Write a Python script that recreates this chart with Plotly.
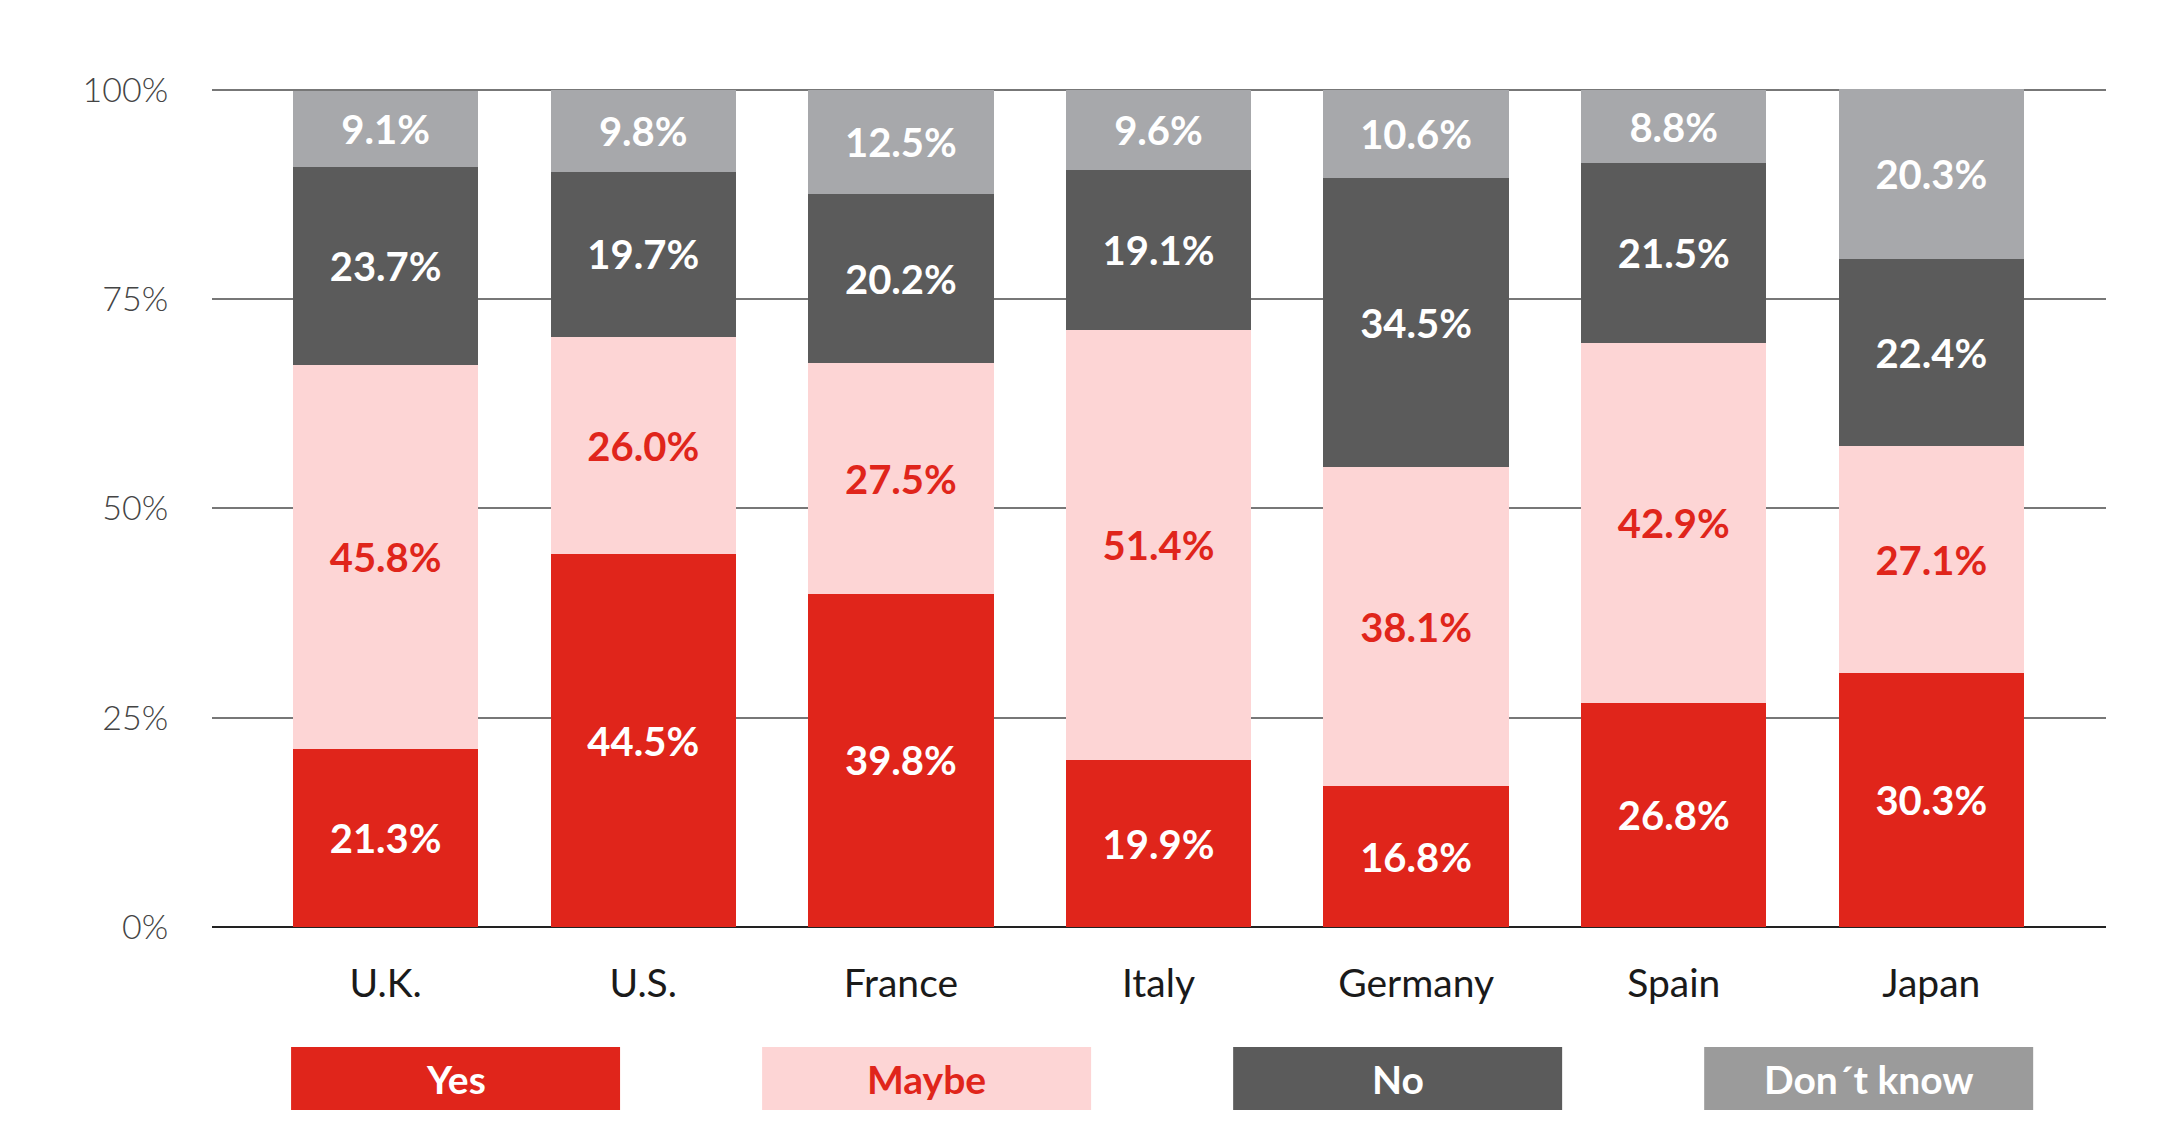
import plotly.graph_objects as go

countries = ["U.K.", "U.S.", "France", "Italy", "Germany", "Spain", "Japan"]

yes = [21.3, 44.5, 39.8, 19.9, 16.8, 26.8, 30.3]
maybe = [45.8, 26.0, 27.5, 51.4, 38.1, 42.9, 27.1]
no = [23.7, 19.7, 20.2, 19.1, 34.5, 21.5, 22.4]
dont_know = [9.1, 9.8, 12.5, 9.6, 10.6, 8.8, 20.3]

series_names = ["Yes", "Maybe", "No", "Don´t know"]
bar_colors = ["#e0251b", "#fdd5d5", "#5b5b5b", "#a7a8ab"]
text_colors = ["white", "#e0251b", "white", "white"]
legend_colors = ["#e0251b", "#fdd5d5", "#5b5b5b", "#9b9b9b"]

tick_vals = [0, 25, 50, 75, 100]
tick_text = ["0%", "25%", "50%", "75%", "100%"]

font_name = "Lato"

fig = go.Figure()

all_values = [yes, maybe, no, dont_know]
for i in range(0, len(series_names)):
    vals = all_values[i]
    fig.add_trace(go.Bar(x=countries,
                         y=vals,
                         name=series_names[i],
                         marker_color=bar_colors[i],
                         marker_line_width=0,
                         text=[f"{v:.1f}%" for v in vals],
                         textposition="inside",
                         insidetextanchor="middle",
                         textangle=0,
                         constraintext="none",
                         textfont=dict(family=font_name, size=40,
                                       color=text_colors[i], weight="bold"),
                         hovertemplate="%{x}<br>%{y:.1f}%"))

fig.update_layout(barmode="stack",
                  bargap=0.28,
                  width=2183,
                  height=1135,
                  margin=dict(l=204, r=85, t=80, b=216),
                  plot_bgcolor="white",
                  paper_bgcolor="white",
                  showlegend=False,
                  font=dict(family=font_name),
                  xaxis_range=[-0.674, 6.678],
                  xaxis_showgrid=False,
                  xaxis_showline=False,
                  xaxis_ticks="outside",
                  xaxis_ticklen=22,
                  xaxis_tickcolor="white",
                  xaxis_tickfont=dict(size=39, color="#1a1a1a"),
                  yaxis_range=[0, 100.2],
                  yaxis_tickvals=tick_vals,
                  yaxis_ticktext=tick_text,
                  yaxis_showgrid=True,
                  yaxis_gridcolor="#777777",
                  yaxis_gridwidth=1.5,
                  yaxis_zeroline=True,
                  yaxis_zerolinecolor="#222222",
                  yaxis_zerolinewidth=1.5,
                  yaxis_ticks="outside",
                  yaxis_ticklen=36,
                  yaxis_tickcolor="white",
                  yaxis_tickfont=dict(size=34, color="#444444", weight=300))

# legend boxes under the chart
box_w = 0.1737
for i in range(0, len(series_names)):
    cx = 0.1286 + i * 0.2487
    fig.add_shape(type="rect", xref="paper", yref="paper",
                  x0=cx - box_w / 2, x1=cx + box_w / 2,
                  y0=-0.2181, y1=-0.143,
                  fillcolor=legend_colors[i], line_width=0)
    fig.add_annotation(x=cx, y=-0.1806, xref="paper", yref="paper",
                       xanchor="center", yanchor="middle",
                       text=series_names[i], showarrow=False,
                       font=dict(family=font_name, size=39, weight="bold",
                                 color=text_colors[i]))

fig.write_html("out.html")
